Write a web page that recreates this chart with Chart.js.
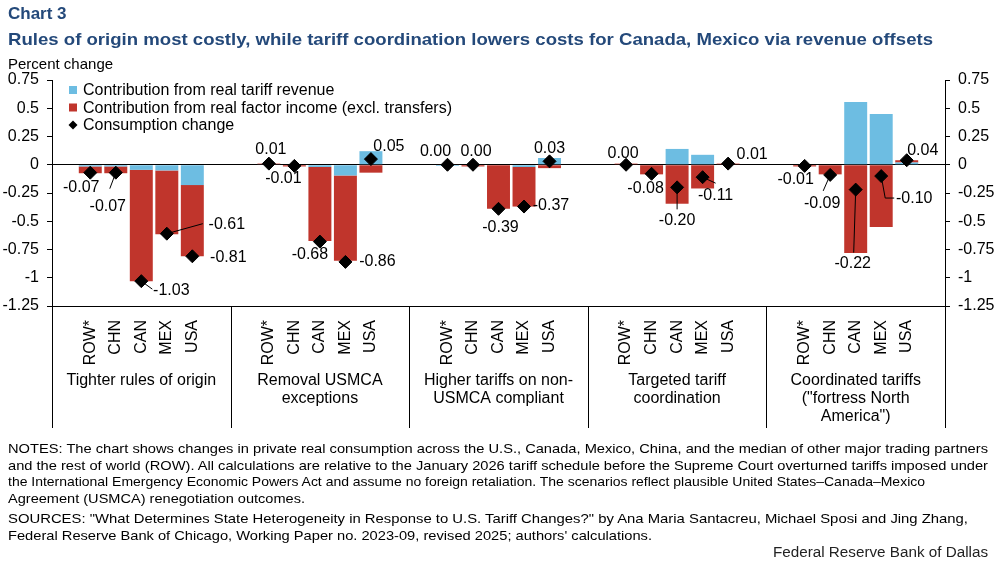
<!DOCTYPE html>
<html>
<head>
<meta charset="utf-8">
<script src="https://cdn.jsdelivr.net/npm/chart.js@4.4.1/dist/chart.umd.min.js"></script>
<style>
  body { margin: 0; background: #fff; font-family: "Liberation Sans", Arial, sans-serif; }
  #wrap { position: relative; width: 997px; height: 565px; overflow: hidden; }
  #c { position: absolute; left: 0; top: 0; }
  .t { position: absolute; white-space: nowrap; transform-origin: 0 0; }
  #h1 { left: 8px; top: 4px; font-weight: bold; font-size: 17px; color: #24497a; }
  #h2 { left: 8px; top: 30px; font-weight: bold; font-size: 17px; color: #24497a; }
  #unit { left: 8px; top: 55px; font-size: 15px; }
  #notes { left: 8px; top: 441px; font-size: 13px; line-height: 16.7px; }
  #credit { left: 773px; top: 544px; font-size: 14px; color: #222; }
</style>
</head>
<body>
<div id="wrap">
  <canvas id="c" width="997" height="565"></canvas>
  <div class="t" id="h1">Chart 3</div>
  <div class="t" id="h2" data-w="925">Rules of origin most costly, while tariff coordination lowers costs for Canada, Mexico via revenue offsets</div>
  <div class="t" id="unit">Percent change</div>
  <div class="t" id="notes">
    <div data-w="980">NOTES: The chart shows changes in private real consumption across the U.S., Canada, Mexico, China, and the median of other major trading partners</div>
    <div data-w="980">and the rest of world (ROW). All calculations are relative to the January 2026 tariff schedule before the Supreme Court overturned tariffs imposed under</div>
    <div data-w="917">the International Emergency Economic Powers Act and assume no foreign retaliation. The scenarios reflect plausible United States–Canada–Mexico</div>
    <div data-w="297">Agreement (USMCA) renegotiation outcomes.</div>
    <div data-w="960" style="margin-top:3px">SOURCES: "What Determines State Heterogeneity in Response to U.S. Tariff Changes?" by Ana Maria Santacreu, Michael Sposi and Jing Zhang,</div>
    <div data-w="644">Federal Reserve Bank of Chicago, Working Paper no. 2023-09, revised 2025; authors' calculations.</div>
  </div>
  <div class="t" id="credit" data-w="215">Federal Reserve Bank of Dallas</div>
</div>
<script>
// countries inside each scenario, and the scenario names (split into lines)
const countries = ['ROW*', 'CHN', 'CAN', 'MEX', 'USA'];
const scenarios = [
  ['Tighter rules of origin'],
  ['Removal USMCA', 'exceptions'],
  ['Higher tariffs on non-', 'USMCA compliant'],
  ['Targeted tariff', 'coordination'],
  ['Coordinated tariffs', '("fortress North', 'America")']
];

// percent change, 5 countries per scenario
const tariffRevenue = [
  -0.015, -0.015, -0.045, -0.05, -0.18,
  0.005, 0, -0.02, -0.095, 0.12,
  -0.01, 0, 0, -0.02, 0.06,
  0, 0, 0.14, 0.088, 0,
  0, 0, 0.555, 0.45, 0.02
];
const factorIncome = [
  -0.06, -0.06, -0.985, -0.565, -0.63,
  0.005, -0.015, -0.655, -0.755, -0.07,
  0.005, -0.015, -0.39, -0.35, -0.03,
  0.01, -0.085, -0.345, -0.21, 0.01,
  -0.015, -0.085, -0.78, -0.55, 0.02
];
const consumption = [
  -0.07, -0.07, -1.03, -0.61, -0.81,
  0.01, -0.01, -0.68, -0.86, 0.05,
  0.00, 0.00, -0.39, -0.37, 0.03,
  0.00, -0.08, -0.20, -0.11, 0.01,
  -0.01, -0.09, -0.22, -0.10, 0.04
];
const yTicks = [0.75, 0.5, 0.25, 0, -0.25, -0.5, -0.75, -1, -1.25];

// where each consumption label sits relative to its diamond: [dx, dy, leader points]
const labelPlace = [
  [-9, 15], [-8, 34, [[-6, 16]]], [30, 9, [[11, 8]]], [60, -9, [[36, -10]]], [36, 1],
  [2, -14], [-11, 13], [-10, 13], [32, 0], [18, -13],
  [-12, -13], [3, -13], [2, 19], [27, -1], [0, -13],
  [-3, -11], [-6, 15], [0, 33, [[0, 22]]], [13, 18, [[13, 6]]], [24, -9],
  [-9, 14], [-8, 29, [[-7, 16]]], [-3, 74, [[-2, 63]]], [33, 23, [[4, 22], [13, 22]]], [16, -10]
];

// each scenario gets 7 slots: a blank, the 5 countries, a blank
const SLOTS = 7;
const labels = [], blue = [], red = [], cons = [], slotOf = [];
scenarios.forEach((s, g) => {
  labels.push(''); blue.push(null); red.push(null); cons.push(null);
  countries.forEach((c, k) => {
    const i = g * countries.length + k;
    slotOf.push(labels.length);
    labels.push(c);
    blue.push(tariffRevenue[i]);
    red.push(factorIncome[i]);
    cons.push(consumption[i]);
  });
  labels.push(''); blue.push(null); red.push(null); cons.push(null);
});

const FONT = '"Liberation Sans", Arial, sans-serif';
const fmt = v => String(Math.round(v * 100) / 100);

const annotate = {
  id: 'annotate',
  afterDraw(chart) {
    const ctx = chart.ctx, x = chart.scales.x, area = chart.chartArea;
    ctx.save();
    ctx.strokeStyle = '#000';
    ctx.lineWidth = 1;
    // scenario dividers under the axis
    for (let g = 0; g <= scenarios.length; g++) {
      let px;
      if (g === 0) px = area.left;
      else if (g === scenarios.length) px = area.right;
      else px = (x.getPixelForValue(g * SLOTS - 1) + x.getPixelForValue(g * SLOTS)) / 2;
      px = Math.round(px) + 0.5;
      ctx.beginPath();
      ctx.moveTo(px, area.bottom);
      ctx.lineTo(px, area.bottom + 122);
      ctx.stroke();
    }
    // scenario names
    ctx.font = '16px ' + FONT;
    ctx.fillStyle = '#000';
    ctx.textAlign = 'center';
    ctx.textBaseline = 'middle';
    scenarios.forEach((lines, g) => {
      const cx = x.getPixelForValue(g * SLOTS + 3);
      lines.forEach((s, i) => ctx.fillText(s, cx, area.bottom + 75 + i * 18));
    });
    // consumption labels with leader lines
    const pts = chart.getDatasetMeta(2).data;
    consumption.forEach((v, i) => {
      const p = pts[slotOf[i]];
      const [dx, dy, lead] = labelPlace[i];
      if (lead) {
        ctx.beginPath();
        ctx.moveTo(p.x, p.y);
        lead.forEach(q => ctx.lineTo(p.x + q[0], p.y + q[1]));
        ctx.stroke();
      }
      ctx.fillText(v.toFixed(2), p.x + dx, p.y + dy);
    });
    // legend
    const items = [
      ['#6dbde2', 'Contribution from real tariff revenue'],
      ['#c0352c', 'Contribution from real factor income (excl. transfers)'],
      ['diamond', 'Consumption change']
    ];
    ctx.textAlign = 'left';
    items.forEach(([col, txt], i) => {
      const y = 90 + i * 17.5;
      if (col === 'diamond') {
        ctx.fillStyle = '#000';
        ctx.beginPath();
        ctx.moveTo(73, y - 4.5); ctx.lineTo(77.5, y); ctx.lineTo(73, y + 4.5); ctx.lineTo(68.5, y);
        ctx.closePath();
        ctx.fill();
      } else {
        ctx.fillStyle = col;
        ctx.fillRect(69, y - 4, 8, 8);
      }
      ctx.fillStyle = '#000';
      ctx.fillText(txt, 83, y + 1);
    });
    ctx.restore();
  }
};

const yAxis = (pos, width) => ({
  type: 'linear',
  position: pos,
  stacked: true,
  min: -1.25,
  max: 0.75,
  afterBuildTicks: s => { s.ticks = yTicks.map(v => ({ value: v })); },
  afterFit: s => { s.width = width; },
  ticks: { color: '#000', font: { size: 16, family: FONT }, padding: 8, callback: v => fmt(v) },
  grid: {
    drawOnChartArea: pos === 'left',
    color: c => (c.tick && c.tick.value === 0 ? '#000' : 'rgba(0,0,0,0)'),
    tickColor: '#000',
    tickLength: 5,
    lineWidth: 1
  },
  border: { display: true, color: '#000', width: 1 }
});

new Chart(document.getElementById('c'), {
  data: {
    labels: labels,
    datasets: [{
      type: 'bar',
      label: 'Contribution from real tariff revenue',
      data: blue,
      backgroundColor: '#6dbde2',
      stack: 'bars',
      categoryPercentage: 1,
      barPercentage: 0.9,
      order: 2
    }, {
      type: 'bar',
      label: 'Contribution from real factor income (excl. transfers)',
      data: red,
      backgroundColor: '#c0352c',
      stack: 'bars',
      categoryPercentage: 1,
      barPercentage: 0.9,
      order: 2
    }, {
      type: 'line',
      label: 'Consumption change',
      data: cons,
      stack: 'dots',
      showLine: false,
      pointStyle: 'rectRot',
      pointRadius: 6.5,
      pointHoverRadius: 6.5,
      backgroundColor: '#000',
      borderColor: '#000',
      order: 0
    }]
  },
  options: {
    responsive: false,
    animation: false,
    layout: { padding: { top: 80, left: 0, right: 0, bottom: 0 } },
    plugins: { legend: { display: false }, title: { display: false }, tooltip: { enabled: false } },
    scales: {
      x: {
        stacked: true,
        offset: true,
        afterFit: s => { s.height = 565 - 306; },
        grid: { display: false },
        border: { display: true, color: '#000', width: 1 },
        ticks: { color: '#000', font: { size: 16, family: FONT }, autoSkip: false, maxRotation: 90, minRotation: 90, padding: 6 }
      },
      y: yAxis('left', 52),
      y2: yAxis('right', 52)
    }
  },
  plugins: [annotate]
});

// squeeze the long text lines to the reference widths
document.querySelectorAll('[data-w]').forEach(el => {
  el.style.display = 'inline-block';
  const w = el.getBoundingClientRect().width;
  el.style.transformOrigin = '0 0';
  el.style.transform = 'scaleX(' + (+el.dataset.w / w) + ')';
  el.style.display = 'block';
  el.style.width = w + 'px';
});
</script>
</body>
</html>
